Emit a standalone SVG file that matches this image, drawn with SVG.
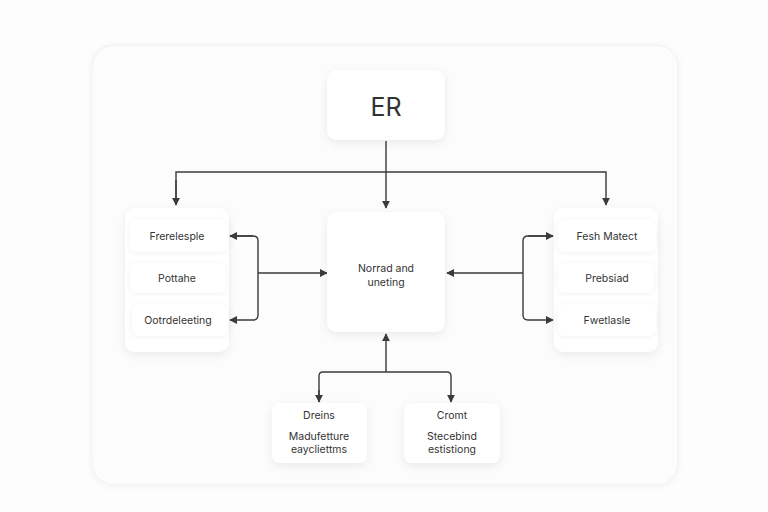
<svg xmlns="http://www.w3.org/2000/svg" width="768" height="512" viewBox="0 0 768 512">
<defs>
<filter id="sh" x="-20%" y="-20%" width="140%" height="150%">
<feDropShadow dx="0" dy="3" stdDeviation="4" flood-color="#000" flood-opacity="0.07"/>
</filter>
<filter id="sh2" x="-10%" y="-10%" width="120%" height="120%">
<feDropShadow dx="0" dy="1" stdDeviation="3" flood-color="#000" flood-opacity="0.05"/>
</filter>
<marker id="ah" viewBox="0 0 10 10" refX="9" refY="5" markerWidth="8" markerHeight="8" markerUnits="userSpaceOnUse" orient="auto">
<path d="M0,0 L10,5 L0,10 z" fill="#3a3a3f"/>
</marker>
<style>
.box{fill:#ffffff;filter:url(#sh)}
.item{fill:#ffffff;filter:url(#sh2)}
.t{font-family:"Inter","Liberation Sans",sans-serif;font-size:10.5px;fill:#333;text-anchor:middle}
.big{font-family:"Inter","Liberation Sans",sans-serif;font-size:25px;fill:#333;text-anchor:middle}
.c{fill:none;stroke:#3a3a3f;stroke-width:1.4}
</style>
</defs>
<rect width="768" height="512" fill="#fdfdfd"/>
<rect x="92" y="45" width="586" height="440" rx="22" fill="#fcfcfc" stroke="#efefef" stroke-width="1" filter="url(#sh2)"/>

<g id="connectors">
<path class="c" d="M386,141 V208" marker-end="url(#ah)"/>
<path class="c" d="M176,205 V172 H606 V205" marker-end="url(#ah)"/>
<path class="c" d="M176,180 V205" marker-end="url(#ah)"/>
<path class="c" d="M230,236 H253 Q258,236 258,241 V315 Q258,320 253,320 H230" marker-end="url(#ah)"/>
<path class="c" d="M253,236 H230" marker-end="url(#ah)"/>
<path class="c" d="M258,273 H327" marker-end="url(#ah)"/>
<path class="c" d="M553,236 H528 Q523,236 523,241 V315 Q523,320 528,320 H553" marker-end="url(#ah)"/>
<path class="c" d="M528,236 H553" marker-end="url(#ah)"/>
<path class="c" d="M523,273 H447" marker-end="url(#ah)"/>
<path class="c" d="M386,372 V334" marker-end="url(#ah)"/>
<path class="c" d="M319,402 V376 Q319,372 323,372 H447 Q451,372 451,376 V402" marker-end="url(#ah)"/>
<path class="c" d="M319,390 V402" marker-end="url(#ah)"/>
</g>

<g id="er">
<rect class="box" x="327" y="70" width="118" height="70" rx="10"/>
<text class="big" x="386" y="116">ER</text>
</g>

<g id="center">
<rect class="box" x="327" y="212" width="118" height="120" rx="10"/>
<text class="t" x="386" y="272">Norrad and</text>
<text class="t" x="386" y="286">uneting</text>
</g>

<g id="left-group">
<rect class="box" x="125" y="208" width="104" height="144" rx="10"/>
<rect class="item" x="130" y="220" width="98" height="32" rx="8"/>
<rect class="item" x="130" y="263" width="96" height="30" rx="8"/>
<rect class="item" x="132" y="304" width="96" height="32" rx="8"/>
<text class="t" x="177" y="240">Frerelesple</text>
<text class="t" x="177" y="282">Pottahe</text>
<text class="t" x="178" y="324">Ootrdeleeting</text>
</g>

<g id="right-group">
<rect class="box" x="554" y="208" width="104" height="144" rx="10"/>
<rect class="item" x="558" y="220" width="98" height="32" rx="8"/>
<rect class="item" x="558" y="263" width="96" height="30" rx="8"/>
<rect class="item" x="558" y="304" width="98" height="32" rx="8"/>
<text class="t" x="607" y="240">Fesh Matect</text>
<text class="t" x="607" y="282">Prebsiad</text>
<text class="t" x="607" y="324">Fwetlasle</text>
</g>

<g id="bottom-left">
<rect class="box" x="272" y="403" width="95" height="60" rx="8"/>
<text class="t" x="319" y="419">Dreins</text>
<text class="t" x="319" y="440">Madufetture</text>
<text class="t" x="319" y="453">eaycliettms</text>
</g>

<g id="bottom-right">
<rect class="box" x="404" y="403" width="96" height="60" rx="8"/>
<text class="t" x="452" y="419">Cromt</text>
<text class="t" x="452" y="440">Stecebind</text>
<text class="t" x="452" y="453">estistiong</text>
</g>
</svg>
